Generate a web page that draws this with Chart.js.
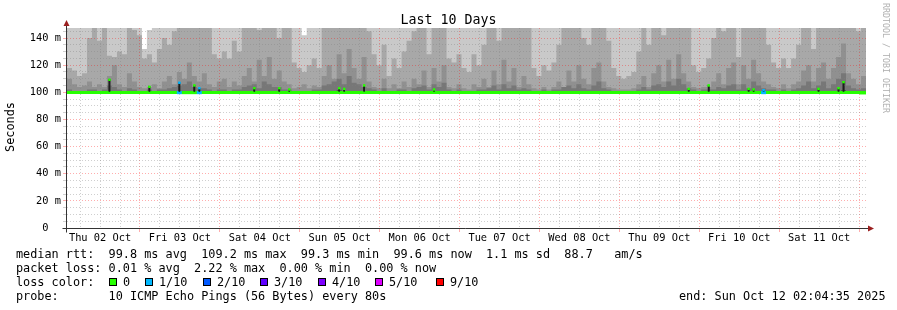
<!DOCTYPE html>
<html>
<head>
<meta charset="utf-8">
<title>Last 10 Days</title>
<script src="https://cdn.jsdelivr.net/npm/chart.js@4.4.1/dist/chart.umd.min.js"></script>
<style>
  html, body { margin: 0; padding: 0; background: #fff; }
  #wrap { position: relative; width: 897px; height: 310px; overflow: hidden; font-family: "DejaVu Sans Mono", monospace; color: #000; }
  #chart { position: absolute; left: 0; top: 0; }
  .txt { position: absolute; white-space: pre; font-size: 11.83px; line-height: 14px; }
  .title { position: absolute; left: 0; width: 897px; top: 12px; text-align: center; font-size: 13.3px; line-height: 16px; white-space: pre; }
  .unit { position: absolute; left: -40px; top: 120px; width: 100px; text-align: center; font-size: 11.83px; line-height: 14px; transform: rotate(-90deg); }
  .mark { position: absolute; left: 830px; top: 53px; width: 112px; text-align: center; font-size: 8.3px; line-height: 10px; color: #b0b0b0; transform: rotate(90deg); white-space: pre; }
  .box { position: absolute; width: 6px; height: 6px; border: 1px solid #000; top: 278px; }
</style>
</head>
<body>
<div id="wrap">
  <canvas id="chart" width="897" height="310"></canvas>
  <div class="title">Last 10 Days</div>
  <div class="unit">Seconds</div>
  <div class="mark">RRDTOOL / TOBI OETIKER</div>
  <div id="legend"></div>
</div>
<script>
// smokeping graph, 10 days from Thu 02 Oct 02:04:35 to Sun Oct 12 02:04:35
// one column every 1.5 h, 16 columns per line = 24 h
const HOURS_PER_COL = 1.5;
const SPAN_H = 240;
const FIRST_MIDNIGHT_H = 21.924;   // Fri 03 Oct 00:00, hours after start

const DAY_LABELS = ['Thu 02 Oct', 'Fri 03 Oct', 'Sat 04 Oct', 'Sun 05 Oct', 'Mon 06 Oct',
                    'Tue 07 Oct', 'Wed 08 Oct', 'Thu 09 Oct', 'Fri 10 Oct', 'Sat 11 Oct'];

const Y_MAX = 147.4;
const SMOKE_BASE = 99.6;

// outer band (max ping), clipped at the top nearly everywhere
const smokeMax = [
  160, 160, 160, 160, 160, 160, 160, 160, 160, 160, 160, 160, 160, 160, 160, 132,
  146, 160, 160, 160, 160, 160, 160, 160, 160, 160, 160, 160, 160, 160, 160, 160,
  160, 160, 160, 160, 160, 160, 160, 160, 160, 160, 160, 160, 160, 160, 160, 142,
  160, 160, 160, 160, 160, 160, 160, 160, 160, 160, 160, 160, 160, 160, 160, 160,
  160, 160, 160, 160, 160, 160, 160, 160, 160, 160, 160, 160, 160, 160, 160, 160,
  160, 160, 160, 160, 160, 160, 160, 160, 160, 160, 160, 160, 160, 160, 160, 160,
  160, 160, 160, 160, 160, 160, 160, 160, 160, 160, 160, 160, 160, 160, 160, 160,
  160, 160, 160, 160, 160, 160, 160, 160, 160, 160, 160, 160, 160, 160, 160, 160,
  160, 160, 160, 160, 160, 160, 160, 160, 160, 160, 160, 160, 160, 160, 160, 160,
  160, 160, 160, 160, 160, 160, 160, 160, 160, 160, 160, 145, 160, 160, 160, 160
];

const smoke2 = [
  118, 116, 112, 114, 140, 150, 138, 150, 127, 126, 130, 128, 150, 146, 142, 125,
  128, 122, 132, 140, 135, 145, 150, 150, 150, 150, 150, 150, 148, 128, 125, 130,
  125, 138, 130, 150, 150, 150, 146, 150, 150, 150, 140, 150, 150, 122, 118, 115,
  120, 125, 118, 150, 150, 150, 150, 150, 150, 150, 150, 150, 145, 128, 120, 135,
  112, 125, 118, 130, 138, 145, 150, 150, 128, 150, 150, 150, 125, 122, 128, 118,
  115, 128, 120, 135, 150, 150, 138, 150, 150, 150, 150, 150, 150, 118, 112, 120,
  116, 122, 135, 150, 148, 150, 150, 140, 135, 150, 150, 150, 138, 118, 112, 110,
  112, 115, 130, 150, 135, 150, 150, 142, 150, 150, 150, 150, 148, 120, 115, 118,
  125, 140, 150, 145, 150, 150, 126, 150, 150, 150, 150, 150, 135, 122, 118, 125,
  118, 125, 135, 150, 150, 132, 150, 150, 150, 150, 150, 150, 150, 150, 145, 150
];

const smoke3 = [
  110, 106, 104, 105, 108, 104, 106, 104, 112, 120, 106, 104, 114, 108, 104, 103,
  104, 106, 103, 108, 112, 106, 115, 110, 122, 112, 108, 114, 106, 104, 108, 110,
  104, 108, 105, 112, 118, 108, 124, 112, 126, 110, 116, 108, 106, 103, 104, 106,
  103, 105, 104, 112, 120, 110, 128, 114, 132, 118, 110, 126, 108, 104, 103, 110,
  103, 106, 103, 108, 104, 110, 106, 116, 104, 118, 108, 120, 104, 103, 106, 103,
  102, 106, 104, 110, 104, 116, 106, 124, 108, 118, 104, 112, 106, 103, 102, 104,
  102, 104, 108, 104, 116, 108, 120, 110, 106, 118, 122, 108, 104, 103, 102, 102,
  102, 103, 106, 112, 104, 114, 120, 108, 124, 110, 128, 114, 108, 104, 103, 104,
  104, 108, 114, 106, 118, 122, 106, 120, 110, 124, 114, 108, 106, 104, 103, 106,
  103, 106, 108, 116, 120, 108, 118, 122, 110, 118, 126, 136, 114, 110, 106, 112
];

const smoke4 = [
  102, 101, 101, 101, 102, 102, 101, 102, 105, 104, 102, 101, 103, 102, 101, 101,
  102, 101, 102, 102, 103, 104, 105, 106, 108, 104, 103, 103, 102, 101, 102, 102,
  101, 102, 102, 104, 105, 106, 103, 108, 106, 104, 104, 102, 102, 101, 101, 101,
  101, 102, 102, 105, 106, 108, 110, 106, 112, 107, 106, 104, 103, 102, 101, 103,
  101, 101, 102, 102, 101, 103, 104, 105, 102, 106, 104, 107, 102, 101, 102, 101,
  101, 101, 102, 102, 103, 105, 102, 106, 103, 105, 102, 103, 102, 101, 101, 102,
  101, 102, 102, 104, 105, 103, 106, 103, 102, 105, 108, 103, 102, 101, 100.5, 100.5,
  100.5, 101, 102, 104, 102, 105, 106, 104, 108, 105, 110, 106, 103, 102, 101, 102,
  102, 102, 104, 103, 105, 106, 102, 106, 103, 108, 105, 103, 102, 102, 101, 102,
  101, 102, 103, 105, 108, 103, 105, 108, 103, 106, 110, 114, 105, 103, 102, 103
];

const smoke5 = [
  99.6, 99.6, 99.6, 99.6, 99.6, 99.6, 99.6, 99.6, 99.6, 99.6, 99.6, 99.6, 99.6, 99.6, 99.6, 99.6,
  99.6, 99.6, 99.6, 99.6, 99.6, 99.6, 99.6, 99.6, 99.6, 99.6, 99.6, 99.6, 99.6, 99.6, 99.6, 99.6,
  99.6, 99.6, 99.6, 99.6, 99.6, 99.6, 99.6, 99.6, 99.6, 99.6, 99.6, 99.6, 99.6, 99.6, 99.6, 99.6,
  99.6, 99.6, 99.6, 99.6, 99.6, 101, 101.5, 101, 101, 99.6, 99.6, 99.6, 99.6, 99.6, 99.6, 99.6,
  99.6, 99.6, 99.6, 99.6, 99.6, 99.6, 99.6, 99.6, 99.6, 99.6, 99.6, 99.6, 99.6, 99.6, 99.6, 99.6,
  99.6, 99.6, 99.6, 99.6, 99.6, 99.6, 99.6, 99.6, 99.6, 99.6, 99.6, 99.6, 99.6, 99.6, 99.6, 99.6,
  99.6, 99.6, 99.6, 99.6, 99.6, 99.6, 99.6, 99.6, 99.6, 99.6, 99.6, 99.6, 99.6, 99.6, 99.6, 99.6,
  99.6, 99.6, 99.6, 99.6, 99.6, 99.6, 99.6, 99.6, 99.6, 99.6, 99.6, 99.6, 99.6, 99.6, 99.6, 99.6,
  99.6, 99.6, 99.6, 99.6, 99.6, 99.6, 99.6, 101, 99.6, 101, 101, 99.6, 99.6, 99.6, 99.6, 99.6,
  99.6, 99.6, 99.6, 99.6, 99.6, 99.6, 99.6, 101, 101, 101, 99.6, 101.5, 99.6, 99.6, 99.6, 99.6
];

// median trace, and the short median peaks drawn on top of it
const medianRtt = [
  99.8, 99.8, 99.8, 99.8, 99.8, 99.8, 99.8, 99.8, 99.8, 99.8, 99.8, 99.8, 99.8, 99.8, 99.8, 99.8,
  99.8, 99.8, 99.8, 99.8, 99.8, 99.8, 99.8, 99.8, 99.8, 99.8, 99.8, 99.8, 99.8, 99.8, 99.8, 99.8,
  99.8, 99.8, 99.8, 99.8, 99.8, 99.8, 99.8, 99.8, 99.8, 99.8, 99.8, 99.8, 99.8, 99.8, 99.8, 99.8,
  99.8, 99.8, 99.8, 99.8, 99.8, 99.8, 99.8, 99.8, 99.8, 99.8, 99.8, 99.8, 99.8, 99.8, 99.8, 99.8,
  99.8, 99.8, 99.8, 99.8, 99.8, 99.8, 99.8, 99.8, 99.8, 99.8, 99.8, 99.8, 99.8, 99.8, 99.8, 99.8,
  99.8, 99.8, 99.8, 99.8, 99.8, 99.8, 99.8, 99.8, 99.8, 99.8, 99.8, 99.8, 99.8, 99.8, 99.8, 99.8,
  99.8, 99.8, 99.8, 99.8, 99.8, 99.8, 99.8, 99.8, 99.8, 99.8, 99.8, 99.8, 99.8, 99.8, 99.8, 99.8,
  99.8, 99.8, 99.8, 99.8, 99.8, 99.8, 99.8, 99.8, 99.8, 99.8, 99.8, 99.8, 99.8, 99.8, 99.8, 99.8,
  99.8, 99.8, 99.8, 99.8, 99.8, 99.8, 99.8, 99.8, 99.8, 99.8, 99.8, 99.8, 99.8, 99.8, 99.8, 99.8,
  99.8, 99.8, 99.8, 99.8, 99.8, 99.8, 99.8, 99.8, 99.8, 99.8, 99.8, 99.8, 99.8, 99.8, 99.8, 99.6
];

const medianPeaks = [
  null, null, null, null, null, null, null, null, 109.2, null, null, null, null, null, null, null,
  104, null, null, null, null, null, 107, null, null, 105, 103, null, null, null, null, null,
  null, null, null, null, null, 103, null, null, null, null, 103, null, 102, null, null, null,
  null, null, null, null, null, null, 103, 102.5, null, null, null, 105, null, null, null, null,
  null, null, null, null, null, null, null, null, null, 102, null, null, null, null, null, null,
  null, null, null, null, null, null, null, null, null, null, null, null, null, null, null, null,
  null, null, null, null, null, null, null, null, null, null, null, null, null, null, null, null,
  null, null, null, null, null, null, null, null, null, null, null, null, 102.5, null, null, null,
  105, null, null, null, null, null, null, null, 102.5, 102, null, 101.5, null, null, null, null,
  null, null, null, null, null, null, 102.5, null, null, null, 103, 107.5, null, null, null, null
];

// packet loss per column, in tenths
const lossTenths = [
  0, 0, 0, 0, 0, 0, 0, 0, 0, 0, 0, 0, 0, 0, 0, 0,
  0, 0, 0, 0, 0, 0, 1, 0, 0, 0, 1, 0, 0, 0, 0, 0,
  0, 0, 0, 0, 0, 0, 0, 0, 0, 0, 0, 0, 0, 0, 0, 0,
  0, 0, 0, 0, 0, 0, 0, 0, 0, 0, 0, 0, 0, 0, 0, 0,
  0, 0, 0, 0, 0, 0, 0, 0, 0, 0, 0, 0, 0, 0, 0, 0,
  0, 0, 0, 0, 0, 0, 0, 0, 0, 0, 0, 0, 0, 0, 0, 0,
  0, 0, 0, 0, 0, 0, 0, 0, 0, 0, 0, 0, 0, 0, 0, 0,
  0, 0, 0, 0, 0, 0, 0, 0, 0, 0, 0, 0, 0, 0, 0, 0,
  0, 0, 0, 0, 0, 0, 0, 0, 0, 0, 0, 1, 0, 0, 0, 0,
  0, 0, 0, 0, 0, 0, 0, 0, 0, 0, 0, 0, 0, 0, 0, 0
];

const LOSS_COLORS = { 0: '#26ff00', 1: '#00b8ff', 2: '#0059ff', 3: '#5e00ff', 4: '#7e00ff', 5: '#dd00ff', 9: '#ff0000' };
const LOSS_LEGEND = ['0', '1/10', '2/10', '3/10', '4/10', '5/10', '9/10'];
const LOSS_KEYS = [0, 1, 2, 3, 4, 5, 9];

const LEGEND_LINES = [
  'median rtt:  99.8 ms avg  109.2 ms max  99.3 ms min  99.6 ms now  1.1 ms sd  88.7   am/s',
  'packet loss: 0.01 % avg  2.22 % max  0.00 % min  0.00 % now',
  'loss color:',
  'probe:       10 ICMP Echo Pings (56 Bytes) every 80s'
];
const END_TEXT = 'end: Sun Oct 12 02:04:35 2025';

const MGRID = 'rgba(255,0,0,0.32)';
const GRID = 'rgba(128,128,128,0.38)';
const AXIS = '#333';
const ARROW = '#9b2020';

// ---------- legend text (html) ----------
(function buildLegend() {
  const el = document.getElementById('legend');
  const tops = [247, 261, 275, 289];
  LEGEND_LINES.forEach((t, i) => {
    el.insertAdjacentHTML('beforeend', `<div class="txt" style="left:16px;top:${tops[i]}px">${t}</div>`);
  });
  const labelX = [123, 159, 217, 274, 332, 389, 450];
  LOSS_LEGEND.forEach((lab, i) => {
    el.insertAdjacentHTML('beforeend',
      `<div class="box" style="left:${labelX[i] - 14}px;background:${LOSS_COLORS[LOSS_KEYS[i]]}"></div>` +
      `<div class="txt" style="left:${labelX[i]}px;top:275px">${lab}</div>`);
  });
  el.insertAdjacentHTML('beforeend', `<div class="txt" style="left:679px;top:289px">${END_TEXT}</div>`);
})();

// ---------- chart ----------
function toSteps(arr) {
  const pts = arr.map((v, i) => ({ x: i * HOURS_PER_COL, y: v }));
  pts.push({ x: SPAN_H, y: arr[arr.length - 1] });
  return pts;
}

function smokeSet(arr, color) {
  return {
    data: toSteps(arr),
    stepped: true,
    borderWidth: 0,
    borderColor: 'rgba(0,0,0,0)',
    backgroundColor: color,
    pointRadius: 0,
    fill: { value: SMOKE_BASE }
  };
}

const peakIdx = medianPeaks.map((v, i) => i).filter(i => medianPeaks[i] !== null);
const peakX = i => (i + 0.5) * HOURS_PER_COL;

// redraw the median marks above the grid, as rrdtool does
const medianOnTop = {
  id: 'medianOnTop',
  afterDraw(chart) {
    const { ctx, chartArea: a } = chart;
    ctx.save();
    ctx.beginPath();
    ctx.rect(a.left, a.top, a.right - a.left, a.bottom - a.top);
    ctx.clip();
    [2, 1, 0].forEach(i => chart.getDatasetMeta(i).controller.draw());
    ctx.restore();
  }
};

// axis lines with the little rrdtool arrows
const rrdAxes = {
  id: 'rrdAxes',
  afterDraw(chart) {
    const { ctx, chartArea: a } = chart;
    const ax = a.left - 0.5, ay = a.bottom + 0.5;
    ctx.save();
    ctx.strokeStyle = AXIS;
    ctx.lineWidth = 1;
    ctx.beginPath();
    ctx.moveTo(ax, ay + 4); ctx.lineTo(ax, a.top - 3);
    ctx.moveTo(ax - 4, ay); ctx.lineTo(a.right + 3, ay);
    ctx.stroke();
    ctx.fillStyle = ARROW;
    ctx.beginPath();
    ctx.moveTo(ax, a.top - 8); ctx.lineTo(ax - 3, a.top - 2); ctx.lineTo(ax + 3, a.top - 2);
    ctx.closePath(); ctx.fill();
    ctx.beginPath();
    ctx.moveTo(a.right + 8, ay); ctx.lineTo(a.right + 2, ay - 3); ctx.lineTo(a.right + 2, ay + 3);
    ctx.closePath(); ctx.fill();
    ctx.restore();
  }
};

const tickFont = { family: 'DejaVu Sans Mono', size: 10.35 };

new Chart(document.getElementById('chart'), {
  type: 'line',
  data: {
    datasets: [
      {
        type: 'scatter',
        data: peakIdx.map(i => ({ x: peakX(i), y: medianPeaks[i] })),
        pointStyle: 'rect',
        pointRadius: 1.6,
        pointBorderWidth: 0,
        pointBackgroundColor: peakIdx.map(i => LOSS_COLORS[lossTenths[i]])
      },
      {
        type: 'bar',
        data: peakIdx.map(i => ({ x: peakX(i), y: [100.6, medianPeaks[i]] })),
        barThickness: 1,
        grouped: false,
        backgroundColor: '#1e1e1e'
      },
      {
        data: toSteps(medianRtt),
        stepped: true,
        borderWidth: 3,
        borderColor: LOSS_COLORS[0],
        segment: { borderColor: c => LOSS_COLORS[lossTenths[c.p0DataIndex]] },
        pointRadius: 0,
        fill: false
      },
      smokeSet(smoke5, '#484848'),
      smokeSet(smoke4, '#777777'),
      smokeSet(smoke3, '#909090'),
      smokeSet(smoke2, '#a8a8a8'),
      smokeSet(smokeMax, '#c9c9c9')
    ]
  },
  options: {
    responsive: false,
    animation: false,
    events: [],
    layout: { padding: { top: 28, right: 31, bottom: 0, left: 0 } },
    plugins: { legend: { display: false }, tooltip: { enabled: false }, title: { display: false } },
    scales: {
      x: {
        type: 'linear',
        min: 0,
        max: SPAN_H,
        offset: false,
        afterFit: s => { s.height = 82; },
        afterBuildTicks: s => {
          const t = [];
          for (let i = 0, h = FIRST_MIDNIGHT_H - 18; h < SPAN_H; i++, h += 6) t.push({ value: h, kind: i % 4 });
          s.ticks = t;
        },
        ticks: {
          autoSkip: false,
          maxRotation: 0,
          minRotation: 0,
          padding: 0,
          font: tickFont,
          color: '#000',
          callback: (v, i) => (i % 4 === 1 ? DAY_LABELS[(i - 1) / 4] : '')
        },
        grid: {
          z: 1,
          offset: false,
          tickLength: 4,
          color: c => (c.tick && c.tick.kind === 3 ? MGRID : GRID),
          tickColor: c => (c.tick && c.tick.kind === 3 ? MGRID : 'rgba(0,0,0,0)')
        },
        border: { display: false, dash: [1, 2] }
      },
      y: {
        min: 0,
        max: Y_MAX,
        afterFit: s => { s.width = 67; },
        afterBuildTicks: s => {
          const t = [];
          for (let v = 0; v <= 145; v += 5) t.push({ value: v });
          s.ticks = t;
        },
        ticks: {
          autoSkip: false,
          padding: 2,
          font: tickFont,
          color: '#000',
          callback: v => (v % 20 !== 0 ? '' : v === 0 ? '0  ' : v + ' m')
        },
        grid: {
          z: 1,
          tickLength: 4,
          color: c => (c.tick.value === 0 ? 'rgba(0,0,0,0)' : c.tick.value % 20 === 0 ? MGRID : GRID),
          tickColor: c => (c.tick.value === 0 ? AXIS : c.tick.value % 20 === 0 ? MGRID : GRID)
        },
        border: { display: false, dash: [1, 2] }
      }
    }
  },
  plugins: [medianOnTop, rrdAxes]
});
</script>
</body>
</html>
